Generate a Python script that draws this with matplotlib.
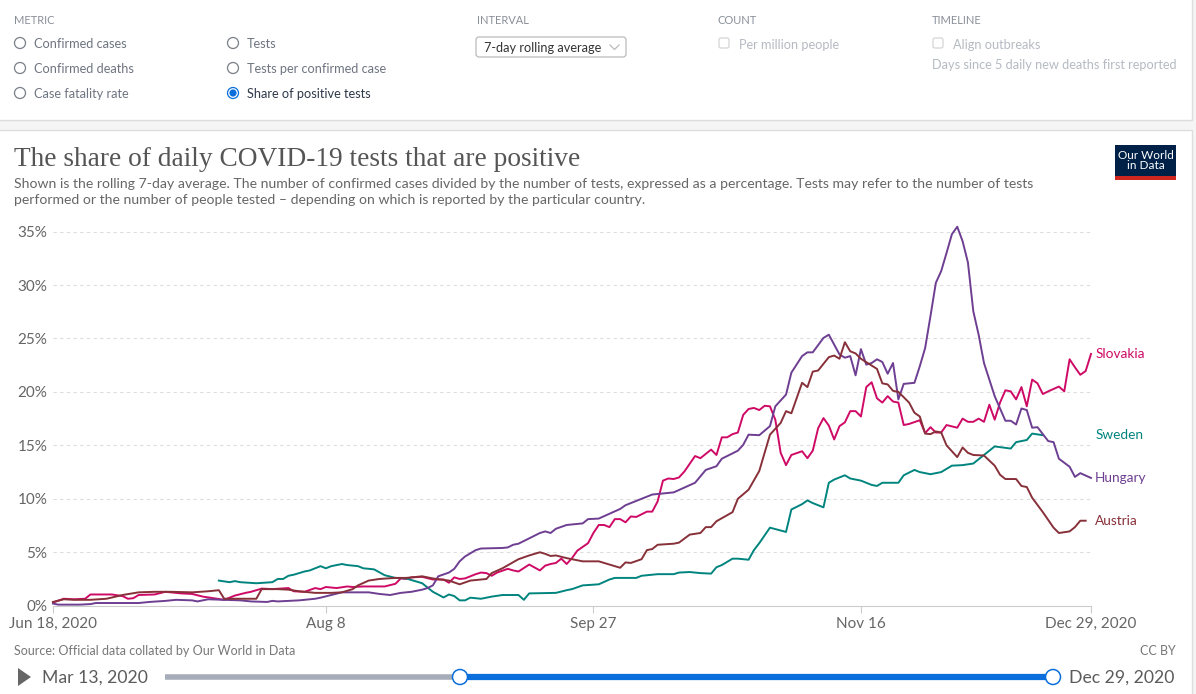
import matplotlib
matplotlib.use("Agg")
import matplotlib.pyplot as plt
from matplotlib.patches import Circle, Rectangle, FancyBboxPatch, Polygon
import pandas as pd

W, H = 1196, 694
START = pd.Timestamp("2020-06-18")
END = pd.Timestamp("2020-12-29")

# share of positive tests (%), days counted from Jun 18, 2020
austria_days = [0, 2, 4, 7, 10, 13, 16, 19, 22, 26, 29, 31, 32, 35, 38, 39, 42, 44, 46, 49,
                52, 54, 56, 57, 59, 61, 64, 66, 69, 71, 74, 76, 78, 81, 82, 84, 87, 89, 91, 92,
                93, 94, 96, 99, 102, 104, 106, 107, 108, 110, 111, 112, 113, 116, 117, 119, 121,
                122, 123, 124, 127, 128, 130, 132, 134, 136, 137, 138, 140, 141, 142, 143, 145,
                146, 147, 148, 149, 150, 151, 154, 155, 156, 157, 158, 160, 161, 162, 163, 164,
                165, 166, 167, 169, 170, 171, 172, 174, 176, 177, 178, 180, 181, 182, 183, 185,
                187, 188, 190, 191, 192, 193]
austria_vals = [0.35, 0.6, 0.55, 0.55, 0.65, 1.0, 1.25, 1.3, 1.3, 1.25, 1.35, 1.45, 0.65, 0.65,
                0.65, 1.55, 1.55, 1.5, 1.35, 1.2, 1.2, 1.25, 1.55, 1.9, 2.35, 2.5, 2.6, 2.6, 2.75,
                2.55, 2.35, 2.0, 2.35, 2.5, 3.05, 3.5, 4.35, 4.7, 5.0, 4.85, 4.65, 4.7, 4.45, 4.15,
                4.15, 3.85, 3.55, 4.05, 4.0, 4.35, 5.2, 5.3, 5.7, 5.8, 5.9, 6.65, 6.8, 7.35, 7.35,
                7.9, 8.75, 10.0, 10.85, 12.6, 16.0, 17.1, 18.2, 18.0, 20.85, 20.45, 21.9, 22.0,
                23.25, 23.4, 23.1, 24.65, 23.8, 23.6, 23.1, 22.15, 20.8, 20.7, 20.1, 20.0, 19.0,
                18.05, 17.7, 16.1, 16.05, 16.3, 16.2, 15.0, 13.9, 14.8, 14.3, 14.1, 14.05, 13.1,
                12.25, 11.85, 11.85, 11.2, 11.1, 10.1, 8.75, 7.3, 6.8, 6.95, 7.35, 7.95, 7.95]

hungary_days = [0, 1, 5, 7, 8, 16, 18, 21, 23, 26, 27, 29, 32, 35, 37, 40, 41, 42, 46, 49, 50,
                52, 54, 56, 59, 61, 63, 65, 67, 69, 70, 71, 72, 74, 75, 76, 77, 79, 80, 84, 85, 86,
                87, 89, 91, 92, 93, 94, 96, 99, 100, 102, 104, 106, 107, 108, 110, 112, 116, 118,
                120, 122, 124, 125, 128, 129, 130, 132, 134, 135, 137, 138, 140, 141, 142, 144,
                145, 147, 148, 149, 150, 151, 152, 153, 154, 155, 156, 157, 158, 159, 161, 162,
                163, 164, 165, 166, 167, 168, 169, 170, 171, 172, 173, 174, 175, 176, 178, 179,
                180, 181, 182, 183, 184, 186, 187, 188, 190, 191, 192, 194]
hungary_vals = [0.2, 0.1, 0.1, 0.15, 0.25, 0.25, 0.35, 0.45, 0.55, 0.5, 0.4, 0.6, 0.55, 0.5,
                0.4, 0.35, 0.45, 0.4, 0.5, 0.65, 0.75, 1.0, 1.25, 1.25, 1.25, 1.1, 1.0, 1.2, 1.3,
                1.5, 1.65, 1.9, 2.75, 3.1, 3.45, 4.15, 4.6, 5.2, 5.35, 5.4, 5.45, 5.7, 5.8, 6.3,
                6.8, 6.95, 6.8, 7.2, 7.55, 7.7, 8.1, 8.15, 8.6, 9.05, 9.4, 9.6, 10.0, 10.4, 10.6,
                11.05, 11.5, 12.7, 13.05, 13.75, 14.5, 15.05, 16.0, 15.95, 16.8, 18.65, 19.75,
                21.8, 23.35, 23.7, 23.7, 25.05, 25.35, 23.5, 23.2, 23.35, 21.55, 24.0, 22.55, 22.7,
                23.05, 22.8, 21.7, 22.7, 19.3, 20.75, 20.85, 22.4, 24.1, 27.1, 30.2, 31.3, 33.0,
                34.75, 35.45, 34.1, 32.1, 27.55, 25.35, 22.7, 21.15, 19.6, 17.3, 17.3, 16.95,
                18.45, 18.3, 16.65, 16.7, 15.4, 15.3, 13.75, 13.0, 12.05, 12.4, 11.95]

slovakia_days = [0, 2, 4, 6, 7, 9, 11, 13, 14, 15, 16, 19, 21, 24, 26, 28, 30, 32, 34, 36, 37,
                 39, 41, 44, 45, 47, 49, 50, 51, 53, 55, 56, 58, 62, 64, 65, 66, 67, 69, 71, 73,
                 74, 75, 76, 77, 79, 80, 81, 82, 83, 85, 86, 87, 89, 91, 92, 93, 94, 95, 96, 97,
                 98, 100, 101, 102, 103, 104, 105, 106, 107, 108, 109, 111, 112, 113, 114, 115,
                 116, 117, 118, 120, 121, 123, 124, 125, 126, 127, 128, 129, 130, 131, 132, 133,
                 134, 135, 136, 137, 138, 140, 141, 142, 143, 144, 145, 146, 147, 148, 149, 150,
                 151, 152, 153, 154, 155, 156, 157, 158, 159, 160, 162, 163, 164, 165, 166, 167,
                 169, 170, 171, 172, 173, 174, 175, 176, 177, 178, 179, 180, 181, 182, 183, 184,
                 185, 186, 188, 189, 190, 191, 192, 193, 194]
slovakia_vals = [0.3, 0.65, 0.6, 0.65, 1.05, 1.05, 1.05, 0.9, 0.65, 0.7, 1.0, 1.05, 1.3, 1.15,
                 1.1, 0.85, 0.7, 0.55, 0.95, 1.2, 1.3, 1.6, 1.55, 1.65, 1.35, 1.3, 1.65, 1.55,
                 1.75, 1.65, 1.8, 1.75, 1.8, 1.8, 2.05, 2.55, 2.5, 2.65, 2.7, 2.45, 2.45, 2.15,
                 2.65, 2.5, 2.55, 2.95, 3.1, 3.05, 2.8, 3.1, 3.45, 3.3, 3.2, 3.85, 3.3, 3.75, 3.9,
                 4.0, 4.4, 3.9, 4.45, 5.15, 5.85, 6.8, 7.55, 7.55, 7.35, 8.1, 8.1, 7.8, 8.35, 8.3,
                 8.8, 8.8, 9.75, 11.7, 11.9, 11.85, 12.0, 12.55, 14.0, 13.8, 14.6, 14.1, 15.75,
                 15.75, 16.05, 16.2, 17.85, 18.4, 18.5, 18.3, 18.7, 18.65, 17.4, 14.3, 13.15,
                 14.1, 14.45, 13.8, 14.5, 16.6, 17.55, 16.85, 15.55, 16.8, 17.15, 18.2, 18.2,
                 17.7, 20.45, 20.9, 19.4, 19.0, 19.6, 19.1, 19.0, 16.9, 17.0, 17.35, 16.15, 16.7,
                 16.2, 16.2, 16.9, 16.65, 17.5, 17.2, 17.2, 17.5, 17.2, 18.8, 17.4, 19.0, 20.15,
                 20.05, 19.3, 20.45, 18.65, 21.15, 20.8, 19.8, 20.05, 20.5, 20.05, 23.05, 22.3,
                 21.6, 21.95, 23.55]

sweden_days = [31, 33, 34, 35, 38, 41, 42, 43, 44, 45, 47, 48, 50, 51, 52, 54, 55, 57, 58, 60,
               62, 64, 66, 69, 71, 73, 74, 75, 76, 77, 78, 80, 82, 84, 87, 88, 89, 94, 96, 97,
               99, 102, 104, 105, 109, 110, 113, 116, 117, 119, 121, 123, 124, 125, 127, 128,
               130, 131, 132, 134, 137, 138, 140, 141, 142, 144, 145, 146, 148, 149, 151, 153,
               154, 155, 158, 159, 161, 162, 164, 166, 168, 170, 172, 174, 176, 179, 180, 182,
               183, 185]
sweden_vals = [2.35, 2.2, 2.3, 2.2, 2.1, 2.2, 2.5, 2.5, 2.8, 2.9, 3.2, 3.3, 3.7, 3.5, 3.7, 3.9,
               3.8, 3.7, 3.5, 3.4, 2.85, 2.6, 2.55, 2.1, 1.3, 0.77, 1.05, 0.9, 0.5, 0.5, 0.75,
               0.65, 0.85, 1.0, 1.0, 0.55, 1.15, 1.2, 1.45, 1.55, 1.9, 2.0, 2.45, 2.6, 2.6, 2.8,
               2.95, 2.95, 3.1, 3.15, 3.05, 3.0, 3.6, 3.8, 4.4, 4.4, 4.3, 5.2, 5.85, 7.3, 6.9,
               9.0, 9.5, 9.85, 9.6, 9.2, 11.5, 11.8, 12.2, 11.9, 11.7, 11.3, 11.2, 11.5, 11.5,
               12.2, 12.7, 12.5, 12.3, 12.5, 13.1, 13.15, 13.3, 14.1, 14.9, 14.7, 15.3, 15.5,
               16.1, 15.95]

countries = ["Slovakia", "Sweden", "Hungary", "Austria"]
days = [slovakia_days, sweden_days, hungary_days, austria_days]
vals = [slovakia_vals, sweden_vals, hungary_vals, austria_vals]
colors = ["#cf0a66", "#00847e", "#6d3e91", "#883039"]

y_ticks = [0, 5, 10, 15, 20, 25, 30, 35]
x_ticks = ["2020-06-18", "2020-08-08", "2020-09-27", "2020-11-16", "2020-12-29"]
x_tick_labels = ["Jun 18, 2020", "Aug 8", "Sep 27", "Nov 16", "Dec 29, 2020"]

plt.rcParams["font.family"] = ["Lato", "DejaVu Sans"]

fig = plt.figure(figsize=(W / 100, H / 100), dpi=100, facecolor="#f5f5f5")

# page / controls layer, drawn in pixel coordinates
ui = fig.add_axes([0, 0, 1, 1], zorder=0)
ui.set_xlim(0, W)
ui.set_ylim(H, 0)
ui.axis("off")

ui.add_patch(Rectangle((-2, -2), 1194, 122, fc="white", ec="#dddddd", lw=1))
ui.add_patch(Rectangle((-2, 130), 1194, 570, fc="white", ec="#dddddd", lw=1))

head = dict(fontsize=8, color="#8a8f98", va="center")
ui.text(14, 20, "METRIC", **head)
ui.text(477, 20, "INTERVAL", **head)
ui.text(718, 20, "COUNT", **head)
ui.text(932, 20, "TIMELINE", **head)

radio = [(20, 43, "Confirmed cases"), (20, 68, "Confirmed deaths"), (20, 93, "Case fatality rate"),
         (233, 43, "Tests"), (233, 68, "Tests per confirmed case")]
for cx, cy, lab in radio:
    ui.add_patch(Circle((cx, cy), 5.5, fc="white", ec="#7a7f87", lw=0.9))
    ui.text(cx + 14, cy + 1, lab, fontsize=9.2, color="#6e7581", va="center")
ui.add_patch(Circle((233, 93), 5.5, fc="white", ec="#0a6fdc", lw=0.9))
ui.add_patch(Circle((233, 93), 3.6, fc="#0a6fdc", ec="none"))
ui.text(247, 94, "Share of positive tests", fontsize=9.2, color="#2f3a4a", va="center")

ui.add_patch(FancyBboxPatch((476, 37), 150, 20, boxstyle="round,pad=0,rounding_size=3",
                            fc="white", ec="#bbbbbb", lw=0.9))
ui.text(484, 48, "7-day rolling average", fontsize=9.2, color="#333333", va="center")
ui.plot([610, 614.5, 619], [45, 49.5, 45], color="#bbbbbb", lw=0.9)

for bx, lab in [(719, "Per million people"), (933, "Align outbreaks")]:
    ui.add_patch(FancyBboxPatch((bx, 38), 10, 10, boxstyle="round,pad=0,rounding_size=2",
                                fc="white", ec="#d5d5d5", lw=0.9))
    ui.text(bx + 20, 45, lab, fontsize=9.2, color="#b5bac2", va="center")
ui.text(932, 65, "Days since 5 daily new deaths first reported", fontsize=9.2,
        color="#b5bac2", va="center")

# titles and logo
ui.text(14, 159, "The share of daily COVID-19 tests that are positive", fontsize=19.7,
        family=["Liberation Serif", "DejaVu Serif"], color="#555555", va="center")
ui.text(14, 184, "Shown is the rolling 7-day average. The number of confirmed cases divided by the "
        "number of tests, expressed as a percentage. Tests may refer to the number of tests",
        fontsize=10.1, color="#666666", va="center")
ui.text(14, 200, "performed or the number of people tested \u2013 depending on which is reported "
        "by the particular country.", fontsize=10.1, color="#666666", va="center")
ui.add_patch(Rectangle((1115, 145), 61, 31, fc="#002147", ec="none"))
ui.add_patch(Rectangle((1115, 176), 61, 4, fc="#ce261e", ec="none"))
ui.text(1145.5, 160.5, "Our World\nin Data", fontsize=8.5, color="white", ha="center",
        va="center", linespacing=0.95)

# footer and timeline
ui.text(14, 651, "Source: Official data collated by Our World in Data", fontsize=9,
        color="#777777", va="center")
ui.text(1176, 651, "CC BY", fontsize=9, color="#777777", va="center", ha="right")
ui.add_patch(Polygon([(18, 668), (18, 686), (31, 677)], closed=True, fc="#666666", ec="none"))
ui.text(42, 678, "Mar 13, 2020", fontsize=12.7, color="#5b5b5b", va="center")
ui.text(1069, 678, "Dec 29, 2020", fontsize=12.7, color="#5b5b5b", va="center")
ui.plot([165, 460], [677, 677], color="#a7adb8", lw=4, solid_capstyle="butt")
ui.plot([460, 1053], [677, 677], color="#0a6fdc", lw=4.5, solid_capstyle="butt")
for hx in (460, 1053):
    ui.add_patch(Circle((hx, 677), 7.5, fc="white", ec="#0a6fdc", lw=1.1, zorder=5))

# chart
top_val = 36
y0, ppv = 605.7, 10.69
ax = fig.add_axes([53 / W, 1 - y0 / H, (1091 - 53) / W, top_val * ppv / H], zorder=1)
ax.patch.set_alpha(0)

for name, d, v, c in zip(countries, days, vals, colors):
    dates = START + pd.to_timedelta(d, unit="D")
    ax.plot(dates, v, color=c, lw=1.4, clip_on=False, zorder=3)
    ax.annotate(name, xy=(1, v[-1]), xycoords=ax.get_yaxis_transform(),
                xytext=(3, 0), textcoords="offset points", fontsize=9.8, color=c,
                va="center", ha="left", annotation_clip=False)

ax.set_xlim(START, END)
ax.set_ylim(0, top_val)
ax.set_yticks(y_ticks)
ax.set_yticklabels([f"{t}%" for t in y_ticks])
ax.set_xticks(pd.to_datetime(x_ticks))
ax.set_xticklabels(x_tick_labels)
for t in y_ticks[1:]:
    ax.axhline(t, color="#dddddd", lw=0.8, ls=(0, (3, 3)), zorder=1)

for s in ["top", "right", "left"]:
    ax.spines[s].set_visible(False)
ax.spines["bottom"].set_color("#cccccc")
ax.tick_params(axis="y", length=0, pad=4, labelsize=11, labelcolor="#666666")
ax.tick_params(axis="x", length=5, color="#cccccc", pad=3, labelsize=11, labelcolor="#666666")

fig.savefig("out.png", dpi=100, facecolor=fig.get_facecolor())
